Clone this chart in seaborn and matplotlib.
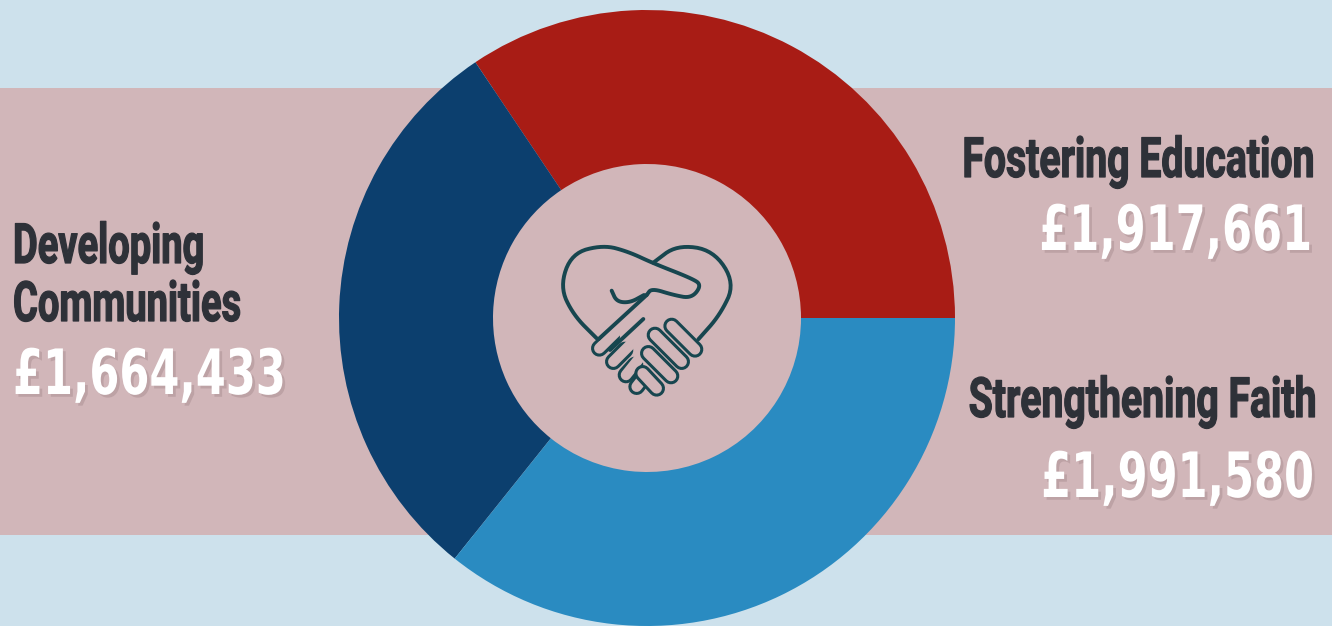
import numpy as np
import matplotlib
matplotlib.use("Agg")
import matplotlib.pyplot as plt
import seaborn as sns
from matplotlib.colors import to_rgba
from matplotlib.patheffects import AbstractPathEffect
from matplotlib.transforms import Affine2D

categories = ["Fostering Education", "Developing Communities", "Strengthening Faith"]
values = [1917661, 1664433, 1991580]
colors = ["#A81C15", "#0C3F6E", "#2A8BC1"]

BACKGROUND = "#CDE1EC"
BAND = "#D1B6B9"
DARK = "#2E3138"
ICON = "#17464F"


class Squeeze(AbstractPathEffect):
    # no condensed font here, so narrow the glyphs around the anchor x
    def __init__(self, anchor, factor, offset=(0, 0), color=None, alpha=None, stroke=0):
        super().__init__(offset)
        self.anchor = anchor
        self.factor = factor
        self.color = to_rgba(color) if color is not None else None
        self.alpha = alpha
        self.stroke = stroke

    def draw_path(self, renderer, gc, tpath, affine, rgbFace=None):
        squeeze = (Affine2D().translate(-self.anchor, 0).scale(self.factor, 1)
                   .translate(self.anchor, 0))
        gc0 = renderer.new_gc()
        gc0.copy_properties(gc)
        if self.alpha is not None:
            gc0.set_alpha(self.alpha)
        face = self.color if self.color is not None else rgbFace
        gc0.set_linewidth(self.stroke)
        if self.stroke:
            gc0.set_foreground(face)
        renderer.draw_path(gc0, tpath, affine + squeeze + self._offset_transform(renderer), face)
        gc0.restore()


def heading(ax, text, x, baseline, ha, factor):
    t = ax.text(x, 626 - baseline, text, ha=ha, va="baseline", color=DARK,
                fontsize=40, fontweight="bold", family="Roboto")
    t.set_path_effects([Squeeze(x, factor, stroke=0.9)])


def amount(ax, value, x, baseline, ha, factor):
    t = ax.text(x, 626 - baseline, f"£{value:,}", ha=ha, va="baseline", color="white",
                fontsize=45, fontweight="bold", family="DejaVu Sans")
    t.set_path_effects([Squeeze(x, factor, offset=(2, -2), color="#8F7478", alpha=0.3),
                        Squeeze(x, factor)])


def smooth(points, rounds=3):
    # corner cutting, good enough for the icon outline
    pts = np.array(points, dtype=float)
    for _ in range(rounds):
        q = pts[:-1] * 0.75 + pts[1:] * 0.25
        r = pts[:-1] * 0.25 + pts[1:] * 0.75
        mid = np.empty((len(q) * 2, 2))
        mid[0::2] = q
        mid[1::2] = r
        pts = np.vstack([pts[0], mid, pts[-1]])
    return pts


def to_axes(points):
    # icon sketched on the zoomed crop: 3x scale, offset 540,220
    pts = np.asarray(points, dtype=float)
    return 540 + pts[:, 0] / 3, 626 - (220 + pts[:, 1] / 3)


def icon_line(ax, points, curved=True):
    pts = smooth(points) if curved else points
    x, y = to_axes(pts)
    ax.plot(x, y, color=ICON, lw=2.8, solid_capstyle="round", solid_joinstyle="round", zorder=5)


def capsule(ax, tip, end, cover_end=None):
    x, y = to_axes([tip, end])
    ax.plot(x, y, color=ICON, lw=12, solid_capstyle="round", zorder=5)
    x, y = to_axes([tip, cover_end if cover_end else end])
    ax.plot(x, y, color=BAND, lw=7.6, solid_capstyle="round", zorder=5)


sns.set_theme(style="white")
fig = plt.figure(figsize=(13.32, 6.26), dpi=100, facecolor=BACKGROUND)
ax = fig.add_axes([0, 0, 1, 1], facecolor=BACKGROUND)

ax.axhspan(626 - 535, 626 - 88, color=BAND, lw=0, zorder=0)

wedges, _ = ax.pie(values, colors=colors, startangle=0, counterclock=True,
                   center=(647, 308), radius=308,
                   wedgeprops=dict(width=154, linewidth=0))
for w in wedges:
    w.set_zorder(2)

ax.set_xlim(0, 1332)
ax.set_ylim(0, 626)
ax.set_aspect("equal")
ax.axis("off")

# left hand finger tips, then right hand on top
capsule(ax, (178, 385), (215, 350), (300, 265))
capsule(ax, (220, 425), (255, 390), (300, 345))
capsule(ax, (258, 465), (285, 435), (310, 400))
capsule(ax, (290, 500), (305, 480), (325, 455))
capsule(ax, (465, 388), (395, 318))
capsule(ax, (425, 425), (345, 345))
capsule(ax, (393, 468), (325, 400))
capsule(ax, (350, 505), (308, 460))

# heart and upper hand
icon_line(ax, [(170, 355), (100, 285), (60, 200), (95, 100), (190, 75), (265, 95), (340, 130),
               (455, 175), (485, 195), (455, 235), (400, 225), (335, 205), (320, 225)])
icon_line(ax, [(320, 225), (175, 358)], curved=False)
icon_line(ax, [(310, 297), (210, 390)], curved=False)
icon_line(ax, [(215, 212), (230, 245), (270, 248), (312, 225)])
icon_line(ax, [(340, 128), (410, 75), (520, 90), (585, 190), (540, 285), (475, 358)])

heading(ax, categories[0], 1314, 177, "right", 0.705)
amount(ax, values[0], 1312, 250, "right", 0.69)
heading(ax, categories[2], 1316, 417, "right", 0.705)
amount(ax, values[2], 1314, 497, "right", 0.69)

first, second = categories[1].split(" ")
heading(ax, first, 13, 263, "left", 0.685)
heading(ax, second, 13, 321, "left", 0.685)
amount(ax, values[1], 13, 394, "left", 0.69)

fig.savefig("out.png", dpi=100, facecolor=BACKGROUND)
